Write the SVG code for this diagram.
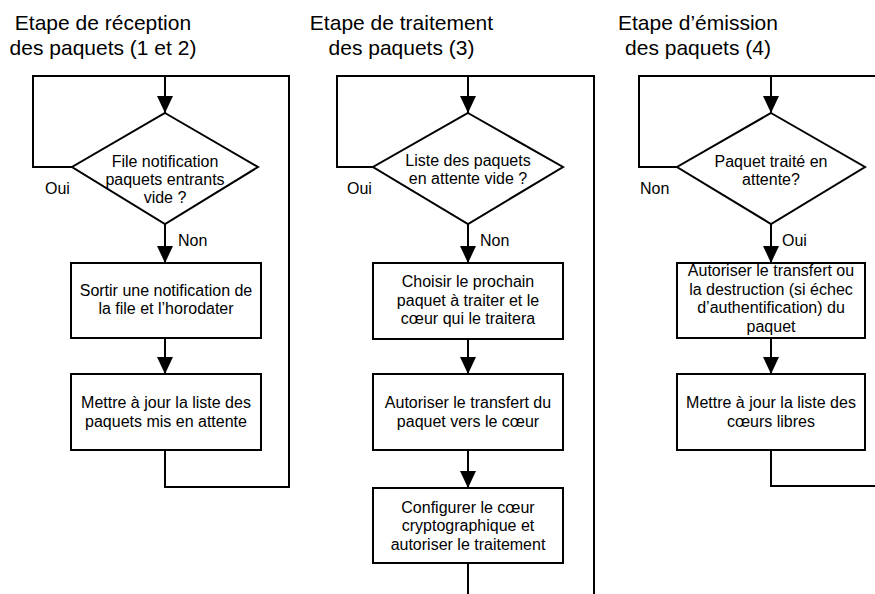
<svg xmlns="http://www.w3.org/2000/svg" width="875" height="594" viewBox="0 0 875 594">
<defs>
<style>
.bg{fill:#ffffff}
.shape{fill:#ffffff;stroke:#000000;stroke-width:2}
.wire{fill:none;stroke:#000000;stroke-width:2}
.arrow{fill:none;stroke:#000000;stroke-width:2;marker-end:url(#ah)}
text{font-family:"Liberation Sans",Arial,sans-serif;fill:#000000}
.t{font-size:16px;text-anchor:middle}
.lbl{font-size:16px}
.title{font-size:21px;text-anchor:middle}
</style>
<marker id="ah" viewBox="0 0 17 16" refX="17" refY="8" markerWidth="17" markerHeight="16" markerUnits="userSpaceOnUse" orient="auto">
<path d="M0,0 L17,8 L0,16 z" fill="#000000"/>
</marker>
</defs>
<rect class="bg" x="0" y="0" width="875" height="594"/>

<g id="titles">
<text class="title" x="103" y="30">Etape de réception</text>
<text class="title" x="103" y="54.5">des paquets (1 et 2)</text>
<text class="title" x="401.5" y="30">Etape de traitement</text>
<text class="title" x="401.5" y="54.5">des paquets (3)</text>
<text class="title" x="698" y="30">Etape d’émission</text>
<text class="title" x="698" y="54.5">des paquets (4)</text>
</g>

<g id="connectors">
<polyline class="wire" points="72,167 33,167 33,76 289,76 289,487 165,487 165,450"/>
<line class="arrow" x1="165" y1="76" x2="165" y2="113"/>
<line class="arrow" x1="165" y1="224" x2="165" y2="263"/>
<line class="arrow" x1="165" y1="338" x2="165" y2="374"/>

<polyline class="wire" points="373,167 337,167 337,76 594,76 594,594"/>
<line class="arrow" x1="468" y1="76" x2="468" y2="113"/>
<line class="arrow" x1="468" y1="224" x2="468" y2="263"/>
<line class="arrow" x1="468" y1="339" x2="468" y2="374"/>
<line class="arrow" x1="468" y1="450" x2="468" y2="488"/>
<line class="wire" x1="468" y1="563" x2="468" y2="594"/>

<polyline class="wire" points="677,167 639,167 639,76 875,76"/>
<line class="arrow" x1="771" y1="76" x2="771" y2="113"/>
<line class="arrow" x1="771" y1="224" x2="771" y2="263"/>
<line class="arrow" x1="771" y1="338" x2="771" y2="374"/>
<polyline class="wire" points="771,450 771,486 875,486"/>

<text class="lbl" x="45" y="194">Oui</text>
<text class="lbl" x="178" y="246">Non</text>
<text class="lbl" x="347" y="194">Oui</text>
<text class="lbl" x="480" y="246">Non</text>
<text class="lbl" x="640" y="194">Non</text>
<text class="lbl" x="782" y="246">Oui</text>
</g>

<g id="d1">
<polygon class="shape" points="165,113 258,167 165,224 72,167"/>
<text class="t" x="165" y="166.5">File notification</text>
<text class="t" x="165" y="184.5">paquets entrants</text>
<text class="t" x="165" y="202.5">vide ?</text>
</g>
<g id="b1a">
<rect class="shape" x="71" y="263" width="190" height="75"/>
<text class="t" x="166" y="295.5">Sortir une notification de</text>
<text class="t" x="166" y="314">la file et l’horodater</text>
</g>
<g id="b1b">
<rect class="shape" x="71" y="374" width="190" height="76"/>
<text class="t" x="166" y="408">Mettre à jour la liste des</text>
<text class="t" x="166" y="427">paquets mis en attente</text>
</g>

<g id="d2">
<polygon class="shape" points="468,113 563,167 468,224 373,167"/>
<text class="t" x="468" y="165.5">Liste des paquets</text>
<text class="t" x="468" y="184">en attente vide ?</text>
</g>
<g id="b2a">
<rect class="shape" x="373" y="263" width="190" height="76"/>
<text class="t" x="468" y="287">Choisir le prochain</text>
<text class="t" x="468" y="305.5">paquet à traiter et le</text>
<text class="t" x="468" y="324">cœur qui le traitera</text>
</g>
<g id="b2b">
<rect class="shape" x="373" y="374" width="190" height="76"/>
<text class="t" x="468" y="408">Autoriser le transfert du</text>
<text class="t" x="468" y="427">paquet vers le cœur</text>
</g>
<g id="b2c">
<rect class="shape" x="373" y="488" width="190" height="75"/>
<text class="t" x="468" y="512.5">Configurer le cœur</text>
<text class="t" x="468" y="531">cryptographique et</text>
<text class="t" x="468" y="549.5">autoriser le traitement</text>
</g>

<g id="d3">
<polygon class="shape" points="771,113 865,167 771,224 677,167"/>
<text class="t" x="771" y="167">Paquet traité en</text>
<text class="t" x="771" y="185">attente?</text>
</g>
<g id="b3a">
<rect class="shape" x="677" y="263" width="188" height="75"/>
<text class="t" x="771" y="276">Autoriser le transfert ou</text>
<text class="t" x="771" y="294.5">la destruction (si échec</text>
<text class="t" x="771" y="313">d’authentification) du</text>
<text class="t" x="771" y="331.5">paquet</text>
</g>
<g id="b3b">
<rect class="shape" x="677" y="374" width="188" height="76"/>
<text class="t" x="771" y="408">Mettre à jour la liste des</text>
<text class="t" x="771" y="427">cœurs libres</text>
</g>
</svg>
